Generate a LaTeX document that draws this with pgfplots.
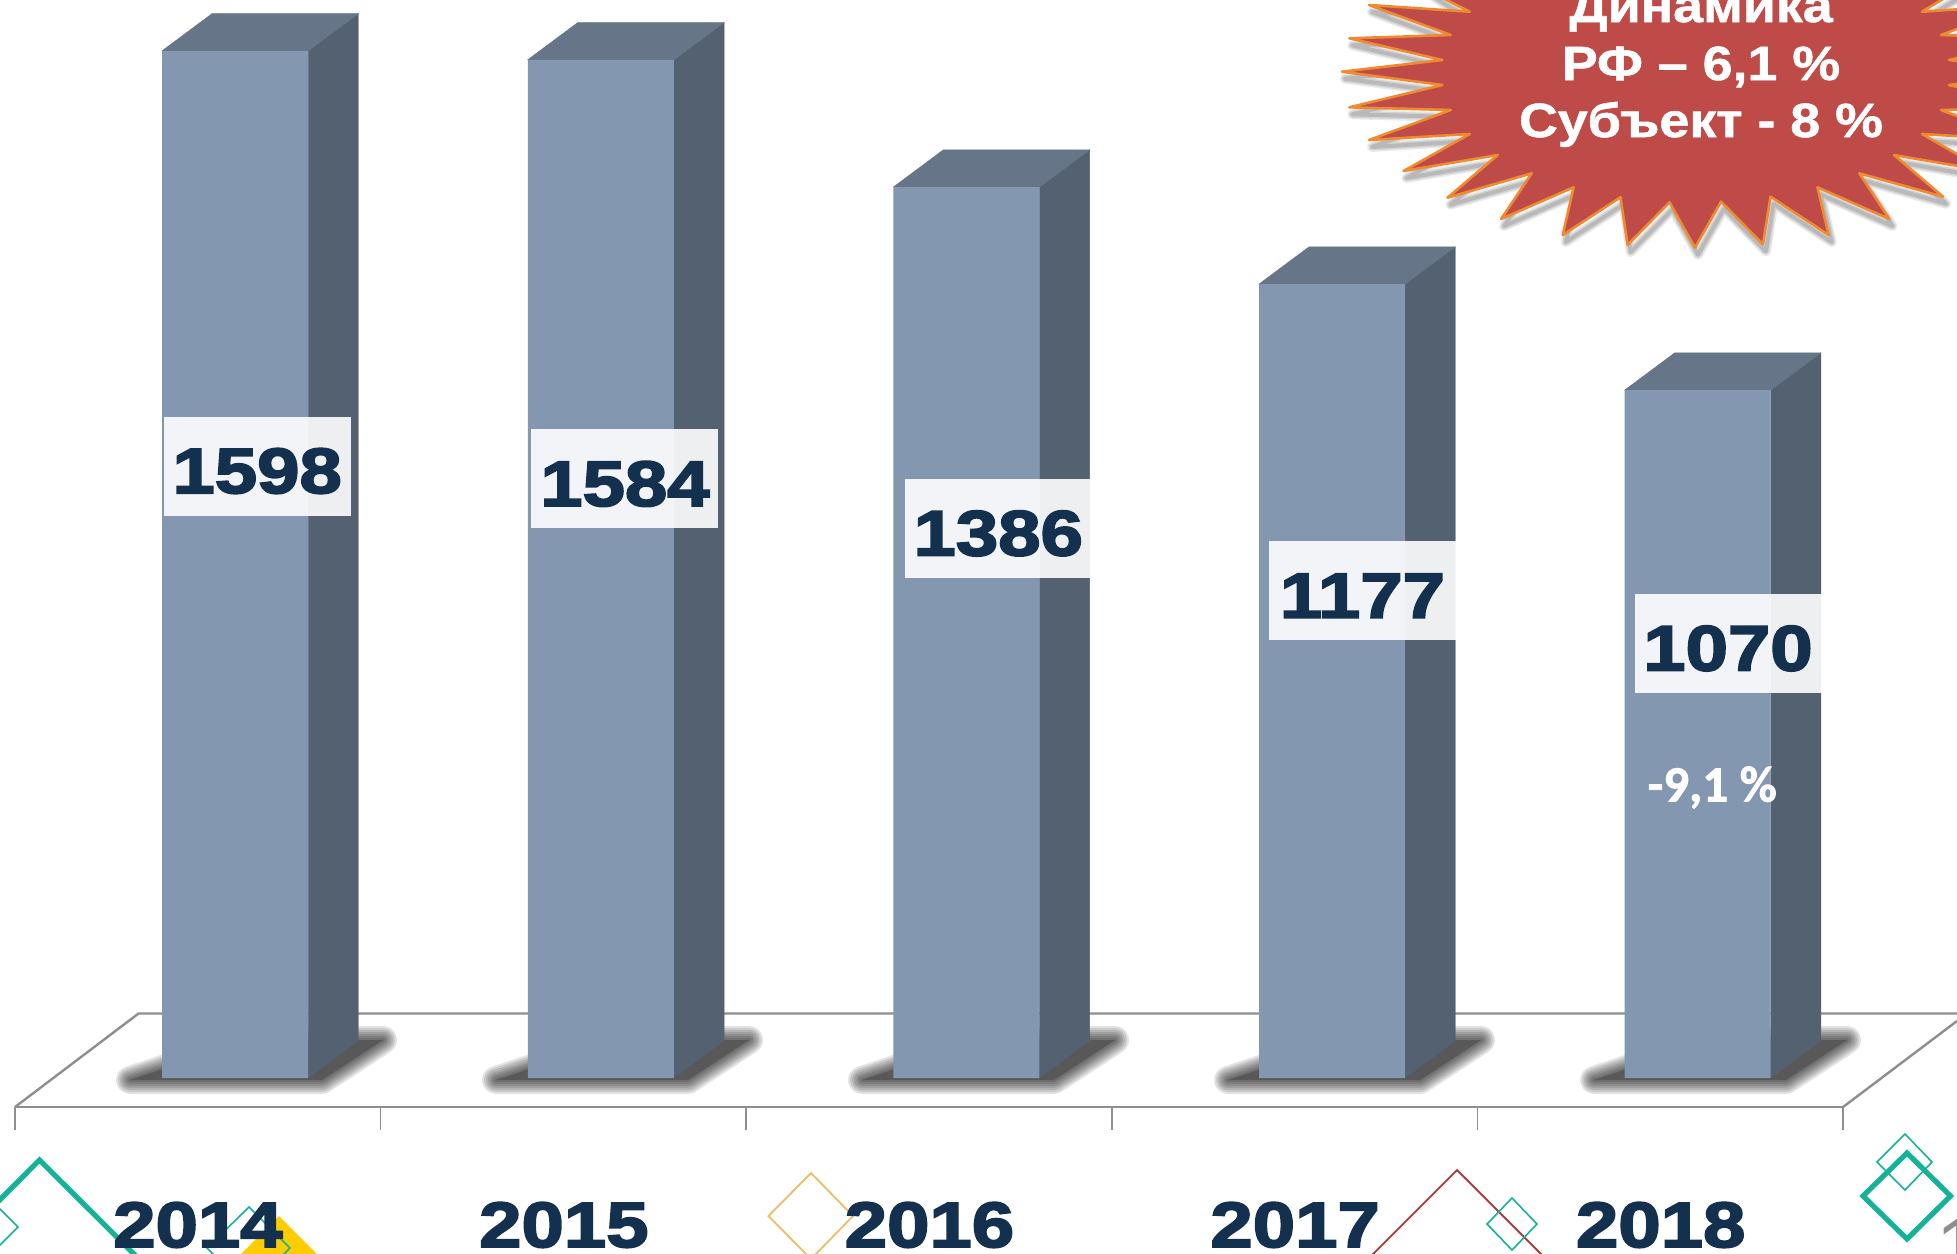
\documentclass[border=0pt]{standalone}
\usepackage{pgfplots}
\usepackage{pgfplotstable}
\pgfplotsset{compat=1.18}
\usepackage{fontspec}
\setmainfont{Liberation Sans}
\newfontfamily\blk[FakeBold=3,FakeStretch=1.19,UprightFont={* Bold}]{Liberation Sans}
\newfontfamily\bst[FakeBold=1.2,FakeStretch=1.12,UprightFont={* Bold}]{Liberation Sans}
\newfontfamily\crl[FakeBold=1.5,UprightFont={* Bold}]{Carlito}
\definecolor{front}{HTML}{8497B0}
\definecolor{side}{HTML}{536171}
\definecolor{topf}{HTML}{667587}
\definecolor{navy}{HTML}{14304F}
\definecolor{floorc}{HTML}{8E8E8E}
\definecolor{teal}{HTML}{14B398}
\definecolor{burst}{HTML}{BE4B48}
\definecolor{burstl}{HTML}{F08A30}
\definecolor{yel}{HTML}{FFCC00}
\definecolor{gold}{HTML}{EDBE5F}
\definecolor{redl}{HTML}{B03A3A}
\definecolor{shad}{HTML}{585858}
\pgfplotstableread{
x y
130 1080
322 1080
383 1040
250 1040
}\shadowshape
\pgfplotstableread{
x y
1446.6 0
1403.5 -27
1497 -40
1900 -40
1986 -27
1922 11.7
2021 5
1941 35
2042 38.3
1949 60
2050 71.7
1949 85
2042 107.3
1941 110
2021 140
1922 134
1986.6 171
1894 155
1943 196.7
1859.3 173.3
1889.4 219
1817.4 187.3
1828.7 235
1770.5 196.7
1762.9 244.3
1721 201.7
1695 247.7
1669.5 202.3
1627.6 245
1620.5 197.3
1562.7 235
1573.6 187.3
1501.1 219
1531.7 173.3
1447.5 197.7
1497.7 155
1403.5 171
1469.7 134
1369.1 140
1450.8 110
1349.4 107.3
1442.4 85
1341.9 71.7
1442.4 60
1349.4 38.3
1450.8 35
1369.1 5
1469.7 11.7
}\burstshape
\pgfplotstableread{
x h
0 1598
1 1584
2 1386
3 1235
4 1070
}\barheights
\pgfplotstableread{
x y label
0.060 952 1598
1.066 932 1584
2.087 855 1386
3.083 758 1177
4.083 676 1070
}\barlabels
\begin{document}
\begin{tikzpicture}
\useasboundingbox (0,0) rectangle (978.5pt,626.5pt);
% decoration, floor and burst, in pixel coordinates of the picture
\begin{axis}[at={(0pt,0pt)},anchor=south west,width=978.5pt,height=626.5pt,scale only axis,
  xmin=0,xmax=1957,ymin=0,ymax=1253,y dir=reverse,hide axis]
% floor
\addplot[floorc,line width=1.2pt,line join=round] coordinates {(15,1107) (138.5,1013.5) (1957,1013.5)};
\addplot[floorc,line width=1.2pt] coordinates {(1843,1107) (1957,1021)};
% shadows
\pgfplotsinvokeforeach{0,366,732,1098,1464}{
  \addplot[black,opacity=0.11,line width=14pt,line join=round] table[x expr=\thisrow{x}+#1,y=y]{\shadowshape} --cycle;
  \addplot[black,opacity=0.11,line width=12pt,line join=round] table[x expr=\thisrow{x}+#1,y=y]{\shadowshape} --cycle;
  \addplot[black,opacity=0.11,line width=10pt,line join=round] table[x expr=\thisrow{x}+#1,y=y]{\shadowshape} --cycle;
  \addplot[black,opacity=0.11,line width=8pt,line join=round] table[x expr=\thisrow{x}+#1,y=y]{\shadowshape} --cycle;
  \addplot[black,opacity=0.11,line width=6pt,line join=round] table[x expr=\thisrow{x}+#1,y=y]{\shadowshape} --cycle;
  \addplot[black,opacity=0.11,line width=4pt,line join=round] table[x expr=\thisrow{x}+#1,y=y]{\shadowshape} --cycle;
  \addplot[black,opacity=0.11,line width=2pt,line join=round] table[x expr=\thisrow{x}+#1,y=y]{\shadowshape} --cycle;
  \addplot[fill=shad,draw=none] table[x expr=\thisrow{x}+#1,y=y]{\shadowshape} --cycle;
}
% diamonds
\addplot[teal,line width=2.6pt,line join=miter] coordinates {(39.5,1160) (165,1285) (39.5,1410) (-85,1285)} --cycle;
\addplot[teal,line width=0.8pt] coordinates {(18,1227) (-2,1207) (-22,1227) (-2,1247)} --cycle;
\addplot[fill=yel,draw=none] coordinates {(279,1216) (379,1316) (279,1416) (179,1316)} --cycle;
\addplot[teal,line width=0.8pt] coordinates {(249,1207) (290,1248) (249,1289) (207,1248)} --cycle;
\addplot[gold,line width=0.9pt] coordinates {(811,1173) (853,1216) (811,1259) (768.5,1216)} --cycle;
\addplot[redl,line width=0.9pt] coordinates {(1457,1170) (1577,1290) (1457,1410) (1337,1290)} --cycle;
\addplot[teal,line width=0.8pt] coordinates {(1512,1198) (1537,1224) (1512,1250) (1487,1224)} --cycle;
\addplot[teal,line width=0.8pt] coordinates {(1905,1134) (1932,1162) (1905,1190) (1877,1162)} --cycle;
\addplot[teal,line width=2.6pt,line join=miter] coordinates {(1907,1153) (1950.5,1196) (1907,1239) (1863,1196)} --cycle;
% burst shadow and burst
\addplot[black,opacity=0.08,line width=5pt,line join=round] table[x expr=\thisrow{x}+3,y expr=\thisrow{y}+7]{\burstshape} --cycle;
\addplot[black,opacity=0.10,line width=3.5pt,line join=round] table[x expr=\thisrow{x}+3,y expr=\thisrow{y}+7]{\burstshape} --cycle;
\addplot[black,opacity=0.12,line width=2pt,line join=round] table[x expr=\thisrow{x}+3,y expr=\thisrow{y}+7]{\burstshape} --cycle;
\addplot[fill=burst,draw=burstl,line width=1.3pt,line join=round] table[x=x,y=y]{\burstshape} --cycle;
\node[anchor=base,white,font=\bst\fontsize{24}{24}\selectfont] at (axis cs:1701,22) {Динамика};
\node[anchor=base,white,font=\bst\fontsize{24}{24}\selectfont] at (axis cs:1701,80) {РФ – 6,1 \%};
\node[anchor=base,white,font=\bst\fontsize{24}{24}\selectfont] at (axis cs:1701,137) {Субъект - 8 \%};
\node[anchor=base west,inner sep=0pt,floorc,font=\fontsize{40}{40}\selectfont] at (axis cs:1936,1274) {1};
\end{axis}
% data axis
\begin{axis}[at={(7.5pt,73pt)},anchor=south west,width=914pt,height=553.5pt,scale only axis,
  xmin=-0.6024,xmax=4.3976,ymin=-45.1,ymax=1677,clip=false,
  axis y line=none,axis x line=bottom,axis line style={-,floorc,line width=1.2pt},
  xtick={-0.6024,0.3976,1.3976,2.3976,3.3976,4.3976},xticklabels={,,,,,},
  tick align=outside,major tick length=11.5pt,tick style={floorc,line width=0.8pt},
  ytick=\empty,
  extra x ticks={-0.102,0.899,1.899,2.899,3.899},
  extra x tick labels={2014,2015,2016,2017,2018},
  extra x tick style={major tick length=0pt,tick style={draw=none},
    xticklabel style={anchor=base,yshift=-70pt,text=navy,font=\blk\fontsize{32}{32}\selectfont}},
]
\addplot[fill=side,draw=side,line width=0.2pt] coordinates {(0.2,0) (0.2,1598) (0.337,1656) (0.337,58)} --cycle;
\addplot[fill=topf,draw=topf,line width=0.2pt] coordinates {(-0.2,1598) (0.2,1598) (0.337,1656) (-0.063,1656)} --cycle;
\addplot[fill=side,draw=side,line width=0.2pt] coordinates {(1.2,0) (1.2,1584) (1.337,1642) (1.337,58)} --cycle;
\addplot[fill=topf,draw=topf,line width=0.2pt] coordinates {(0.8,1584) (1.2,1584) (1.337,1642) (0.937,1642)} --cycle;
\addplot[fill=side,draw=side,line width=0.2pt] coordinates {(2.2,0) (2.2,1386) (2.337,1444) (2.337,58)} --cycle;
\addplot[fill=topf,draw=topf,line width=0.2pt] coordinates {(1.8,1386) (2.2,1386) (2.337,1444) (1.937,1444)} --cycle;
\addplot[fill=side,draw=side,line width=0.2pt] coordinates {(3.2,0) (3.2,1235) (3.337,1293) (3.337,58)} --cycle;
\addplot[fill=topf,draw=topf,line width=0.2pt] coordinates {(2.8,1235) (3.2,1235) (3.337,1293) (2.937,1293)} --cycle;
\addplot[fill=side,draw=side,line width=0.2pt] coordinates {(4.2,0) (4.2,1070) (4.337,1128) (4.337,58)} --cycle;
\addplot[fill=topf,draw=topf,line width=0.2pt] coordinates {(3.8,1070) (4.2,1070) (4.337,1128) (3.937,1128)} --cycle;
\addplot[ybar,bar width=73pt,bar shift=0pt,fill=front,draw=none] table[x=x,y=h]{\barheights};
\addplot[only marks,mark=none,draw=none,nodes near coords,point meta=explicit symbolic,
  every node near coord/.append style={anchor=center,fill=white,fill opacity=0.9,text opacity=1,
    text=navy,inner sep=0pt,minimum width=93.5pt,minimum height=49.5pt,
    text height=27pt,text depth=0pt,text width=93.5pt,align=center,
    font=\blk\fontsize{32}{32}\selectfont}]
  table[x=x,y=y,meta=label]{\barlabels};
\node[white,font=\crl\fontsize{25.5}{25.5}\selectfont] at (axis cs:4.04,452) {-9,1 \%};
\end{axis}
\end{tikzpicture}
\end{document}
